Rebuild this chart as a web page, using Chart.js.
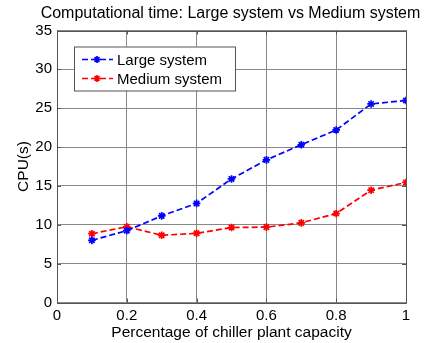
<!DOCTYPE html>
<html>
<head>
<meta charset="utf-8">
<script src="https://cdn.jsdelivr.net/npm/chart.js@4"></script>
<style>
  html, body { margin: 0; padding: 0; background: #fff; }
  #wrap { width: 425px; height: 343px; }
</style>
</head>
<body>
<div id="wrap"><canvas id="c" width="425" height="343"></canvas></div>
<script>
// Fraction of chiller plant capacity
const capacity = [0.1, 0.2, 0.3, 0.4, 0.5, 0.6, 0.7, 0.8, 0.9, 1.0];
// CPU time in seconds
const largeSystem  = [8.0, 9.25, 11.15, 12.75, 15.9, 18.35, 20.3, 22.2, 25.55, 26.0];
const mediumSystem = [8.85, 9.75, 8.65, 8.9, 9.65, 9.7, 10.25, 11.45, 14.45, 15.45];
const seriesNames  = ['Large system', 'Medium system'];
const chartTitle   = 'Computational time: Large system vs Medium system';
const xTicks = [0, 0.2, 0.4, 0.6, 0.8, 1];
const yTicks = [0, 5, 10, 15, 20, 25, 30, 35];

const FONT = 'Liberation Sans, Arial, Helvetica, sans-serif';
const AXIS_COLOR = '#555';
const DASH = [6, 3];

const toPoints = (ys) => capacity.map((x, i) => ({ x: x, y: ys[i] }));

// Title centred over the axes (it is wider than the plot area)
const axesTitle = {
  id: 'axesTitle',
  afterDraw(chart) {
    const { ctx, chartArea: a } = chart;
    ctx.save();
    ctx.font = '16px ' + FONT;
    ctx.fillStyle = '#000';
    ctx.textAlign = 'center';
    ctx.textBaseline = 'middle';
    ctx.fillText(chartTitle, (a.left + a.right) / 2 - 1, 13.5);
    ctx.restore();
  }
};

// Box around the plot area with short inward tick marks
const boxPlugin = {
  id: 'box',
  afterDatasetsDraw(chart) {
    const { ctx, chartArea: a, scales } = chart;
    ctx.save();
    ctx.strokeStyle = AXIS_COLOR;
    ctx.lineWidth = 1;
    ctx.beginPath();
    ctx.rect(Math.round(a.left) + 0.5, Math.round(a.top) + 0.5,
             Math.round(a.right - a.left), Math.round(a.bottom - a.top));
    ctx.stroke();
    const t = 4;
    ctx.beginPath();
    xTicks.forEach(v => {
      const px = Math.round(scales.x.getPixelForValue(v)) + 0.5;
      ctx.moveTo(px, a.bottom); ctx.lineTo(px, a.bottom - t);
      ctx.moveTo(px, a.top); ctx.lineTo(px, a.top + t);
    });
    yTicks.forEach(v => {
      const py = Math.round(scales.y.getPixelForValue(v)) + 0.5;
      ctx.moveTo(a.left, py); ctx.lineTo(a.left + t, py);
      ctx.moveTo(a.right, py); ctx.lineTo(a.right - t, py);
    });
    ctx.stroke();
    ctx.restore();
  }
};

// Legend drawn inside the plot, upper left
const innerLegend = {
  id: 'innerLegend',
  afterDraw(chart) {
    const { ctx, chartArea: a } = chart;
    const bx = a.left + 17, by = a.top + 16, bw = 161, bh = 44;
    ctx.save();
    ctx.fillStyle = '#fff';
    ctx.fillRect(bx, by, bw, bh);
    ctx.strokeStyle = AXIS_COLOR;
    ctx.lineWidth = 1;
    ctx.strokeRect(bx + 0.5, by + 0.5, bw, bh);
    ctx.font = '15px ' + FONT;
    ctx.textBaseline = 'middle';
    chart.data.datasets.forEach((ds, i) => {
      const y = by + 13 + i * 19;
      ctx.strokeStyle = ds.borderColor;
      ctx.lineWidth = 1.7;
      ctx.setLineDash(DASH);
      ctx.beginPath();
      ctx.moveTo(bx + 8, y); ctx.lineTo(bx + 39, y);
      ctx.stroke();
      ctx.setLineDash([]);
      // star marker
      const cx = bx + 23, r = 3.5;
      ctx.beginPath();
      ctx.moveTo(cx - r, y); ctx.lineTo(cx + r, y);
      ctx.moveTo(cx, y - r); ctx.lineTo(cx, y + r);
      const d = r * 0.7;
      ctx.moveTo(cx - d, y - d); ctx.lineTo(cx + d, y + d);
      ctx.moveTo(cx - d, y + d); ctx.lineTo(cx + d, y - d);
      ctx.stroke();
      ctx.fillStyle = '#000';
      ctx.fillText(ds.label, bx + 43, y + 1);
    });
    ctx.restore();
  }
};

const lineStyle = (color) => ({
  borderColor: color,
  backgroundColor: color,
  borderWidth: 1.7,
  borderDash: DASH,
  pointStyle: 'star',
  pointRadius: 3.8,
  pointBorderWidth: 1.7,
  pointHoverRadius: 3.8,
  fill: false,
  tension: 0
});

new Chart(document.getElementById('c'), {
  type: 'line',
  data: {
    datasets: [
      Object.assign({ label: seriesNames[0], data: toPoints(largeSystem) }, lineStyle('#0000ff')),
      Object.assign({ label: seriesNames[1], data: toPoints(mediumSystem) }, lineStyle('#ff0000'))
    ]
  },
  options: {
    responsive: false,
    animation: false,
    layout: { padding: { top: 30.5, right: 19, bottom: 0, left: 0 } },
    plugins: {
      legend: { display: false },
      tooltip: { enabled: false },
      title: { display: false }
    },
    scales: {
      x: {
        type: 'linear',
        min: 0, max: 1,
        afterFit: (s) => { s.height = 40.5; },
        afterBuildTicks: (s) => { s.ticks = xTicks.map(v => ({ value: v })); },
        border: { display: false },
        grid: { color: '#888', lineWidth: 1, borderDash: [1, 2], drawTicks: false },
        ticks: {
          color: '#000', padding: 4, maxRotation: 0,
          font: { family: FONT, size: 15 },
          callback: (v) => String(v)
        },
        title: {
          display: true,
          text: 'Percentage of chiller plant capacity',
          color: '#000',
          font: { family: FONT, size: 15.5 },
          padding: { top: 0, bottom: 1 }
        }
      },
      y: {
        type: 'linear',
        min: 0, max: 35,
        afterFit: (s) => { s.width = 57; },
        afterBuildTicks: (s) => { s.ticks = yTicks.map(v => ({ value: v })); },
        border: { display: false },
        grid: { color: '#888', lineWidth: 1, borderDash: [1, 2], drawTicks: false },
        ticks: { color: '#000', padding: 5, font: { family: FONT, size: 15 } },
        title: {
          display: true,
          text: 'CPU(s)',
          color: '#000',
          font: { family: FONT, size: 15.5 },
          padding: { top: 14, bottom: 0 }
        }
      }
    }
  },
  plugins: [boxPlugin, innerLegend, axesTitle]
});
</script>
</body>
</html>
